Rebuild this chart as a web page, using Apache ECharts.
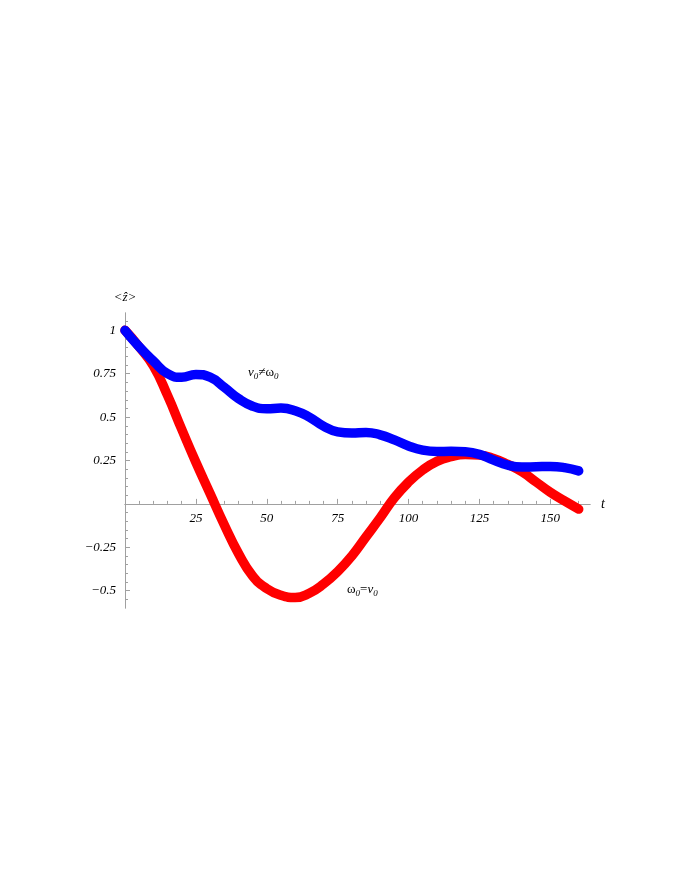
<!DOCTYPE html>
<html>
<head>
<meta charset="utf-8">
<title>z(t)</title>
<script src="https://cdn.jsdelivr.net/npm/echarts@6/dist/echarts.min.js"></script>
<style>
  html, body { margin: 0; background: #fff; }
  #chart { width: 692px; height: 896px; }
</style>
</head>
<body>
<div id="chart"></div>
<script>
// time samples
const tValues = [0, 5, 10, 15, 20, 25, 30, 35, 40, 45, 50, 55, 60, 65, 70, 75, 80,
  85, 90, 95, 100, 105, 110, 115, 120, 125, 130, 135, 140, 145, 150, 155, 160];
// omega0 = nu0 (red)
const zResonant = [1.0, 0.905, 0.795, 0.625, 0.43, 0.24, 0.06, -0.12, -0.285, -0.415, -0.488, -0.527, -0.54,
  -0.515, -0.462, -0.39, -0.3, -0.19, -0.08, 0.035, 0.125, 0.195, 0.245, 0.272, 0.284, 0.281,
  0.262, 0.228, 0.185, 0.126, 0.067, 0.017, -0.03];
// nu0 != omega0 (blue)
const zDetuned = [1.0, 0.905, 0.823, 0.75, 0.73, 0.746, 0.73, 0.672, 0.607, 0.563, 0.548, 0.552, 0.537,
  0.50, 0.448, 0.415, 0.408, 0.412, 0.398, 0.369, 0.334, 0.31, 0.302, 0.303, 0.30, 0.285,
  0.252, 0.223, 0.212, 0.214, 0.216, 0.209, 0.19];

const xMajor = [25, 50, 75, 100, 125, 150];
const xMinor = [5, 10, 15, 20, 30, 35, 40, 45, 55, 60, 65, 70, 80, 85, 90, 95,
  105, 110, 115, 120, 130, 135, 140, 145, 155, 160];
const yMajor = [-0.5, -0.25, 0.25, 0.5, 0.75, 1];
const yMinor = [-0.55, -0.45, -0.4, -0.35, -0.3, -0.2, -0.15, -0.1, -0.05, 0.05, 0.1, 0.15, 0.2,
  0.3, 0.35, 0.4, 0.45, 0.55, 0.6, 0.65, 0.7, 0.8, 0.85, 0.9, 0.95, 1.05];

const serif = '"Liberation Serif", "DejaVu Serif", serif';
const axisGray = '#a0a0a0';
const xMin = 0, xMax = 164, yMin = -0.6, yMax = 1.1;
const gridTop = 313, gridBottom = 288, gridH = 896 - gridTop - gridBottom;

const redData = tValues.map((t, i) => [t, zResonant[i]]);
const blueData = tValues.map((t, i) => [t, zDetuned[i]]);

const labelFont = { fontFamily: serif, fontStyle: 'italic', fontSize: 13, color: '#000' };

function xAxisOf(ticks, len, withName) {
  return {
    type: 'value', min: xMin, max: xMax, position: 'bottom',
    name: withName ? 't' : '', nameLocation: 'end', nameGap: 11,
    nameTextStyle: Object.assign({}, labelFont, { fontSize: 14 }),
    axisLine: { onZero: true, onZeroAxisIndex: 0, lineStyle: { color: axisGray, width: 1 } },
    axisTick: { show: true, inside: true, length: len, customValues: ticks, lineStyle: { color: axisGray } },
    axisLabel: { show: false },
    splitLine: { show: false }
  };
}

// labels of the t axis sit under the zero line
const zeroOffset = gridH * (0 - yMin) / (yMax - yMin);
const xLabelAxis = {
  type: 'value', min: xMin, max: xMax, position: 'bottom', offset: -zeroOffset,
  axisLine: { show: false, onZero: false },
  axisTick: { show: false },
  axisLabel: Object.assign({ show: true, customValues: xMajor, margin: 8 }, labelFont),
  splitLine: { show: false }
};

function yAxisOf(ticks, len, labels) {
  return {
    type: 'value', min: yMin, max: yMax, position: 'left',
    name: labels ? '<ẑ>' : '', nameLocation: 'end', nameGap: 9,
    nameTextStyle: labelFont,
    axisLine: { onZero: true, onZeroAxisIndex: 0, lineStyle: { color: axisGray, width: 1 } },
    axisTick: { show: true, inside: true, length: len, customValues: ticks, lineStyle: { color: axisGray } },
    axisLabel: labels ? Object.assign({
      show: true, customValues: yMajor, margin: 9,
      formatter: v => (v < 0 ? '\u2212' + String(-v) : String(v))
    }, labelFont) : { show: false },
    splitLine: { show: false }
  };
}

const richStyles = {
  i: { fontFamily: serif, fontStyle: 'italic', fontSize: 13, fill: '#000' },
  n: { fontFamily: serif, fontSize: 13, fill: '#000' },
  s: { fontFamily: serif, fontStyle: 'italic', fontSize: 9, fill: '#000', padding: [9, 0, 0, 0] }
};

const chart = echarts.init(document.getElementById('chart'), null, { renderer: 'canvas' });
chart.setOption({
  animation: false,
  backgroundColor: '#fff',
  grid: { left: 125, right: 102, top: gridTop, bottom: gridBottom, containLabel: false },
  xAxis: [xAxisOf(xMajor, 5, true), xAxisOf(xMinor, 3, false), xLabelAxis],
  yAxis: [yAxisOf(yMajor, 5, true), yAxisOf(yMinor, 3, false)],
  series: [
    {
      name: 'resonant', type: 'line', data: redData, smooth: true, showSymbol: false,
      lineStyle: { color: '#ff0000', width: 9.5, cap: 'round', join: 'round' }
    },
    {
      name: 'detuned', type: 'line', data: blueData, smooth: true, showSymbol: false,
      lineStyle: { color: '#0000ff', width: 9.5, cap: 'round', join: 'round' }
    }
  ],
  graphic: [
    {
      type: 'text', left: 248, top: 366,
      style: { text: '{i|v}{s|0}{n|≠ω}{s|0}', rich: richStyles }
    },
    {
      type: 'text', left: 347, top: 583,
      style: { text: '{n|ω}{s|0}{n|=}{i|v}{s|0}', rich: richStyles }
    }
  ]
});
</script>
</body>
</html>
